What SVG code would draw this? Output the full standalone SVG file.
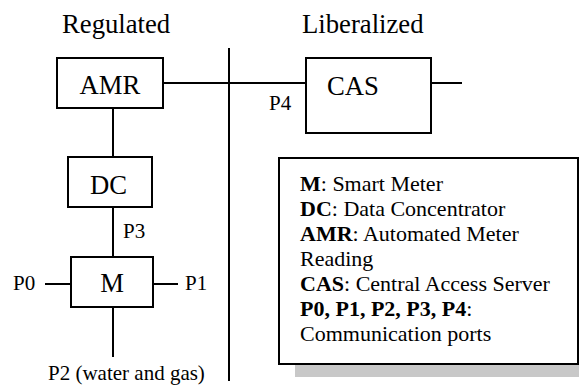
<svg xmlns="http://www.w3.org/2000/svg" width="579" height="385" viewBox="0 0 579 385">
<style>
.t{font-family:'Liberation Serif','Times New Roman',serif;fill:#000}
.big{font-size:26.7px}
.port{font-size:21px}
.leg{font-size:22px}
.box{fill:#fff;stroke:#000;stroke-width:2}
</style>
<rect width="579" height="385" fill="#fff"/>
<text class="t big" x="62" y="33">Regulated</text>
<text class="t big" x="302" y="33">Liberalized</text>
<g id="connectors" stroke="#000" stroke-width="2" fill="none">
<line x1="229" y1="48" x2="229" y2="381"/>
<line x1="163" y1="83" x2="306" y2="83"/>
<line x1="431" y1="83" x2="462" y2="83"/>
<line x1="113" y1="108" x2="113" y2="157"/>
<line x1="113" y1="207" x2="113" y2="257"/>
<line x1="45" y1="284" x2="71" y2="284"/>
<line x1="153" y1="284" x2="178" y2="284"/>
<line x1="113" y1="307" x2="113" y2="357"/>
</g>
<g id="port-labels">
<text class="t port" x="269" y="110">P4</text>
<text class="t port" x="123" y="238">P3</text>
<text class="t port" x="13" y="290">P0</text>
<text class="t port" x="185" y="290">P1</text>
<text class="t port" x="48" y="380">P2 (water and gas)</text>
</g>
<g id="AMR">
<rect class="box" x="57" y="58" width="106" height="50"/>
<text class="t big" x="110" y="94" text-anchor="middle">AMR</text>
</g>
<g id="CAS">
<rect class="box" x="306" y="58" width="125" height="75"/>
<text class="t big" x="327" y="95">CAS</text>
</g>
<g id="DC">
<rect class="box" x="68" y="157" width="84" height="50"/>
<text class="t big" x="90" y="194">DC</text>
</g>
<g id="M">
<rect class="box" x="71" y="257" width="82" height="50"/>
<text class="t big" x="112" y="292" text-anchor="middle">M</text>
</g>
<g id="legend">
<rect x="295" y="365" width="284" height="12" fill="#c8c8c8"/>
<rect class="box" x="279" y="158" width="299" height="206"/>
<text class="t leg" x="300" y="191"><tspan font-weight="bold">M</tspan>: Smart Meter</text>
<text class="t leg" x="300" y="216"><tspan font-weight="bold">DC</tspan>: Data Concentrator</text>
<text class="t leg" x="300" y="241"><tspan font-weight="bold">AMR</tspan>: Automated Meter</text>
<text class="t leg" x="300" y="266">Reading</text>
<text class="t leg" x="300" y="291"><tspan font-weight="bold">CAS</tspan>: Central Access Server</text>
<text class="t leg" x="300" y="316"><tspan font-weight="bold">P0, P1, P2, P3, P4</tspan>:</text>
<text class="t leg" x="300" y="341">Communication ports</text>
</g>
</svg>
